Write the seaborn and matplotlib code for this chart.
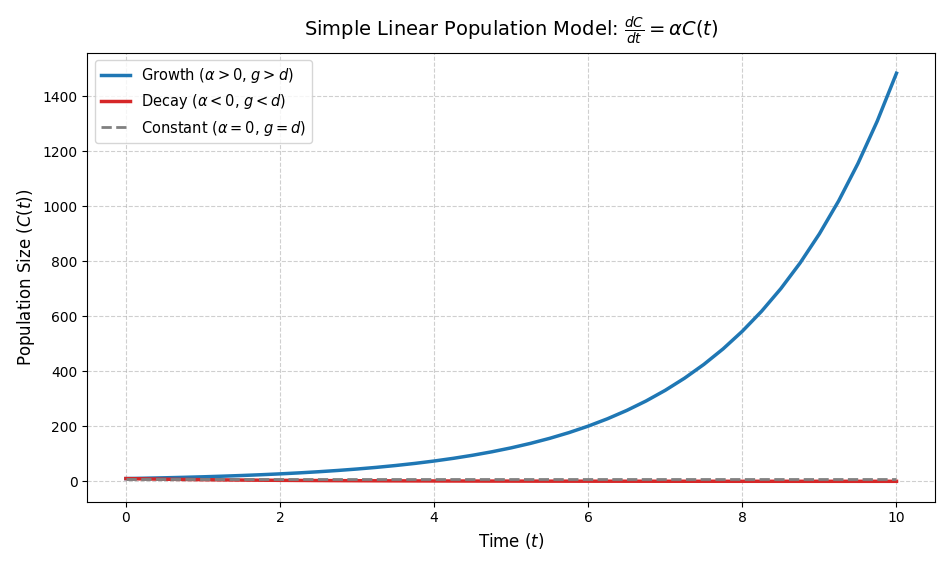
import matplotlib
matplotlib.use("Agg")
import matplotlib.pyplot as plt
import seaborn as sns
import pandas as pd

time = [k * 0.25 for k in range(41)]
growth = [10, 11.33, 12.84, 14.55, 16.49, 18.68, 21.17, 23.99, 27.18, 30.80,
          34.90, 39.55, 44.82, 50.79, 57.55, 65.21, 73.89, 83.73, 94.88, 107.51,
          121.82, 138.04, 156.42, 177.24, 200.85, 227.59, 257.89, 292.23, 331.13, 375.21,
          425.19, 481.73, 545.98, 618.67, 701.05, 794.38, 900.17, 1020.0, 1155.8, 1309.7,
          1484.1]
decay = [10, 8.82, 7.79, 6.87, 6.07, 5.35, 4.72, 4.17, 3.68, 3.25,
         2.87, 2.53, 2.23, 1.97, 1.74, 1.53, 1.35, 1.19, 1.05, 0.93,
         0.82, 0.72, 0.64, 0.56, 0.50, 0.44, 0.39, 0.34, 0.30, 0.27,
         0.24, 0.21, 0.18, 0.16, 0.14, 0.13, 0.11, 0.10, 0.09, 0.08, 0.07]
constant = [10] * len(time)

df = pd.DataFrame({"t": time, "growth": growth, "decay": decay, "constant": constant})

plt.rcParams['font.family'] = ['DejaVu Sans']
fig, ax = plt.subplots(figsize=(9.5, 5.66), dpi=100)
sns.lineplot(data=df, x="t", y="growth", ax=ax, color="#1f77b4", lw=2.5,
             label=r"Growth ($\alpha > 0$, $g > d$)")
sns.lineplot(data=df, x="t", y="decay", ax=ax, color="#d62728", lw=2.5,
             label=r"Decay ($\alpha < 0$, $g < d$)")
sns.lineplot(data=df, x="t", y="constant", ax=ax, color="gray", lw=2, linestyle="--",
             label=r"Constant ($\alpha = 0$, $g = d$)")
ax.grid(True, linestyle="--", alpha=0.6)
ax.set_xlabel(r"Time ($t$)", fontsize=12)
ax.set_ylabel(r"Population Size ($C(t)$)", fontsize=12)
ax.set_title(r"Simple Linear Population Model: $\frac{dC}{dt} = \alpha C(t)$", fontsize=14, pad=12)
ax.legend(loc="upper left", fontsize=10.5)
fig.tight_layout()
fig.savefig("out.png", dpi=100)
